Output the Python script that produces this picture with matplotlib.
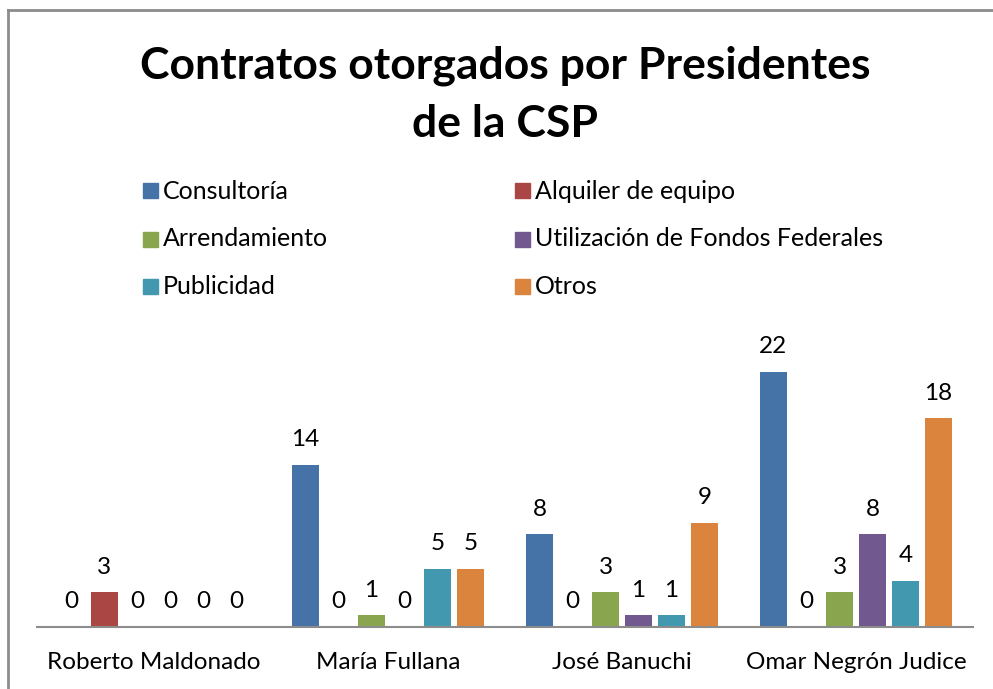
import numpy as np
import matplotlib
matplotlib.use('Agg')
import matplotlib.pyplot as plt
from matplotlib.patches import Rectangle
from matplotlib.lines import Line2D

plt.rcParams['font.family'] = ['Lato', 'DejaVu Sans']

presidentes = ['Roberto Maldonado', 'María Fullana', 'José Banuchi', 'Omar Negrón Judice']
series = ['Consultoría', 'Alquiler de equipo', 'Arrendamiento',
          'Utilización de Fondos Federales', 'Publicidad', 'Otros']
consultoria = [0, 14, 8, 22]
alquiler = [3, 0, 0, 0]
arrendamiento = [0, 1, 3, 3]
fondos_federales = [0, 0, 1, 8]
publicidad = [0, 5, 1, 4]
otros = [0, 5, 9, 18]
valores = [consultoria, alquiler, arrendamiento, fondos_federales, publicidad, otros]
colores = ['#4572A7', '#AA4643', '#89A54E', '#71588F', '#4198AF', '#DB843D']

W, H = 993, 689
fig = plt.figure(figsize=(W / 100, H / 100), dpi=100)

# marco gris del grafico (solo izquierda y arriba visibles)
fig.add_artist(Line2D([8 / W, 8 / W], [0, 1 - 10 / H], color='#8c8c8c', lw=2))
fig.add_artist(Line2D([8 / W, 1], [1 - 10 / H, 1 - 10 / H], color='#8c8c8c', lw=2))

ax = fig.add_axes([37 / W, 1 - 627 / H, 936 / W, 290 / H])
x = np.arange(len(presidentes))
slot = 33 / 234
ancho = 26.5 / 234
for i, (nombre, vals, col) in enumerate(zip(series, valores, colores)):
    pos = x + (i - 2.5) * slot
    ax.bar(pos, vals, width=ancho, color=col, label=nombre)
    for p, v in zip(pos, vals):
        ax.annotate(str(v), (p, v), xytext=(0, 18), textcoords='offset points',
                    ha='center', va='center', fontsize=17.5, color='black')

ax.set_xlim(-0.5, 3.5)
ax.set_ylim(0, 25)
ax.set_xticks(x)
ax.set_xticklabels(presidentes, fontsize=17.5)
ax.tick_params(axis='x', length=0, pad=18)
ax.set_yticks([])
for s in ['top', 'right', 'left']:
    ax.spines[s].set_visible(False)
ax.spines['bottom'].set_color('#8c8c8c')
ax.spines['bottom'].set_linewidth(1.5)

fig.text(505 / W, 1 - 45 / H, 'Contratos otorgados por Presidentes\nde la CSP',
         ha='center', va='top', fontsize=32, fontweight='bold', linespacing=1.55)

# leyenda en dos columnas
col_x = [143, 515]
fila_y = [191, 239, 287]
for i, (nombre, col) in enumerate(zip(series, colores)):
    cx = col_x[i % 2]
    cy = fila_y[i // 2]
    fig.add_artist(Rectangle((cx / W, 1 - (cy + 7.5) / H), 15 / W, 15 / H,
                             color=col, transform=fig.transFigure))
    fig.text((cx + 20) / W, 1 - cy / H, nombre, ha='left', va='center', fontsize=18)

fig.savefig('out.png', dpi=100)
